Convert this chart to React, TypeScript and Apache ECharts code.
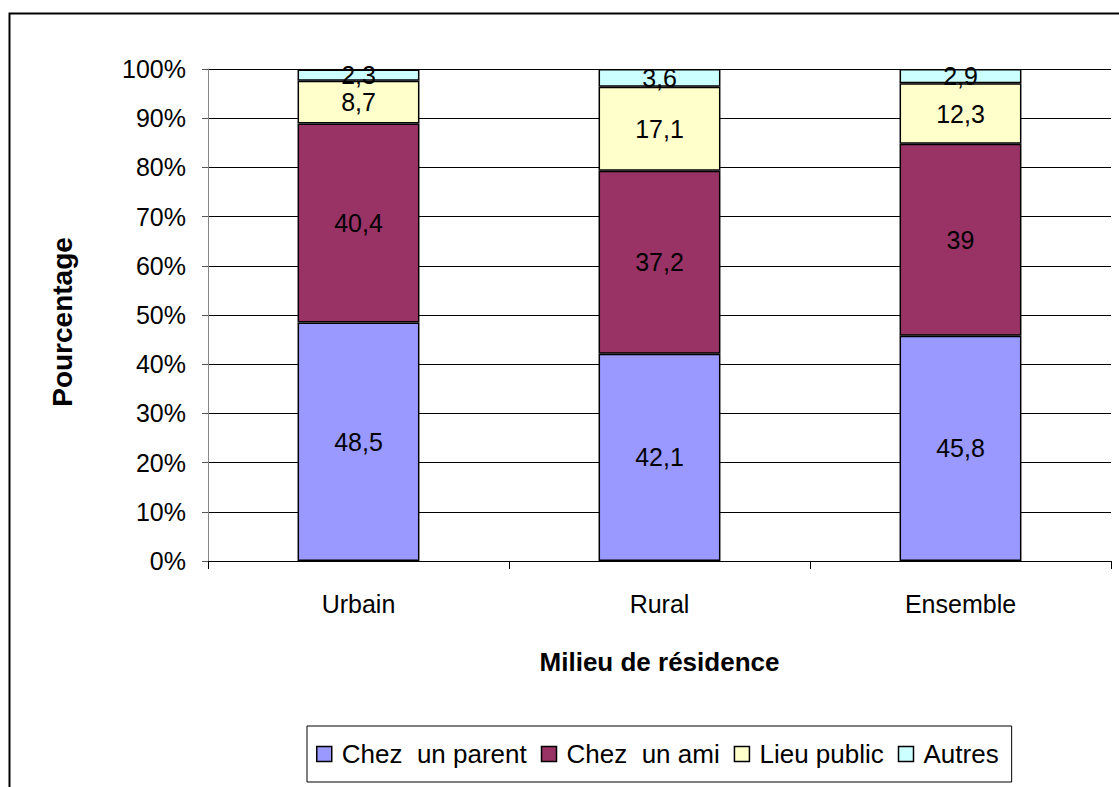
import React, { useEffect, useRef } from "react";
import * as echarts from "echarts";

const categories = ["Urbain", "Rural", "Ensemble"];
const seriesNames = ["Chez  un parent", "Chez  un ami", "Lieu public", "Autres"];
const parentValues = [48.5, 42.1, 45.8];
const amiValues = [40.4, 37.2, 39];
const publicValues = [8.7, 17.1, 12.3];
const autresValues = [2.3, 3.6, 2.9];
const colors = ["#9999FF", "#993366", "#FFFFCC", "#CCFFFF"];
const yTicks = [0, 10, 20, 30, 40, 50, 60, 70, 80, 90, 100];
const xTitle = "Milieu de résidence";
const yTitle = "Pourcentage";

const FONT = "Liberation Sans, Arial, sans-serif";

export default function App() {
  const ref = useRef<HTMLDivElement>(null);
  useEffect(() => {
    if (!ref.current) return;
    const chart = echarts.init(ref.current, null, { renderer: "svg" });
    const data = [parentValues, amiValues, publicValues, autresValues];
    chart.setOption({
      animation: false,
      backgroundColor: "#ffffff",
      textStyle: { fontFamily: FONT },
      graphic: [
        {
          type: "rect",
          shape: { x: 9.5, y: 13.5, width: 1120, height: 800 },
          style: { fill: "none", stroke: "#000", lineWidth: 2 },
          silent: true,
        },
        {
          type: "text",
          x: 62,
          y: 322,
          rotation: Math.PI / 2,
          style: {
            text: yTitle,
            fontSize: 28,
            fontWeight: "bold",
            fontFamily: FONT,
            fill: "#000",
            align: "center",
            verticalAlign: "middle",
          },
          silent: true,
        },
      ],
      grid: { left: 208, right: 8, top: 69, bottom: 226 },
      legend: {
        left: 307,
        top: 726,
        padding: [15, 13, 15, 9],
        borderColor: "#000",
        borderWidth: 1,
        itemWidth: 15,
        itemHeight: 15,
        itemGap: 14,
        icon: "rect",
        itemStyle: { borderColor: "#000", borderWidth: 1.5 },
        textStyle: { fontSize: 26, color: "#000", fontFamily: FONT, padding: [0, 0, 0, 5] },
        data: seriesNames,
      },
      xAxis: {
        type: "category",
        data: categories,
        name: xTitle,
        nameLocation: "middle",
        nameGap: 88,
        nameTextStyle: { fontSize: 26, fontWeight: "bold", color: "#000", fontFamily: FONT },
        axisLine: { lineStyle: { color: "#000", width: 1 } },
        axisTick: { show: true, alignWithLabel: false, length: 8, lineStyle: { color: "#000" } },
        axisLabel: { fontSize: 25, color: "#000", margin: 30, fontFamily: FONT },
      },
      yAxis: {
        type: "value",
        min: yTicks[0],
        max: yTicks[yTicks.length - 1],
        interval: 10,
        axisLine: { show: true, lineStyle: { color: "#888", width: 1 } },
        axisTick: { show: true, length: 6, lineStyle: { color: "#555" } },
        axisLabel: { fontSize: 25, color: "#000", margin: 22, formatter: "{value}%", fontFamily: FONT },
        splitLine: { show: true, lineStyle: { color: "#000", width: 1 } },
      },
      series: seriesNames.map((name, i) => ({
        name,
        type: "bar",
        stack: "total",
        barWidth: "40.5%",
        data: data[i],
        itemStyle: { color: colors[i], borderColor: "#000", borderWidth: 1.5 },
        label: {
          show: true,
          position: "inside",
          fontSize: 25,
          color: "#000",
          fontFamily: FONT,
          formatter: (p: any) => String(p.value).replace(".", ","),
        },
      })),
    });
    return () => chart.dispose();
  }, []);
  return (
    <div
      ref={ref}
      style={{ position: "fixed", left: 0, top: 0, width: 1119, height: 787 }}
    />
  );
}
